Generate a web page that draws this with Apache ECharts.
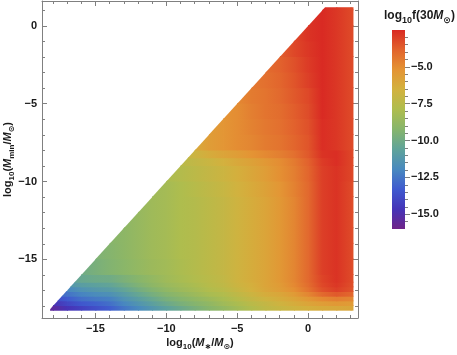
<!DOCTYPE html>
<html><head><meta charset="utf-8">
<script src="https://cdn.jsdelivr.net/npm/echarts@6/dist/echarts.min.js"></script>
<style>html,body{margin:0;padding:0;background:#fff}#c{width:457px;height:355px}</style>
</head><body><div id="c"></div>
<script>
// ---- data ----
// sample positions along log10(M*/Msun)
const xSamples = [-18.2, -18, -17, -16, -15, -14, -13, -12, -11, -10, -9, -8, -7, -6, -5, -4, -3, -2, -1, 0, 1, 2, 3, 3.2];
// horizontal bands along log10(Mmin/Msun) (edges)
const yBandEdges = [-18.3, -18.0, -17.7, -17.4, -17.1, -16.8, -16.5, -16, -15, -14, -13, -12, -11, -10, -9, -8.5, -8, -7, -6, -5, -4, -3, -2, -1, 0, 1, 1.2];
// log10 f values per band (bottom to top), right-aligned with xSamples (the last value is at x = 3.2)
const band01 = [-15.6, -15.4, -14.7, -14.2, -13.7, -13.2, -12.5, -11.9, -11.3, -10.7, -10.2, -9.7, -9.2, -8.8, -8.3, -7.8, -7.3, -7.0, -6.7, -6.4, -6.2, -6.1, -6.0, -6.0];
const band02 = [-14.8, -14.0, -13.4, -13.1, -12.7, -12.0, -11.4, -10.8, -10.2, -9.7, -9.3, -8.9, -8.4, -8.0, -7.5, -7.1, -6.7, -6.3, -5.9, -5.6, -5.4, -5.5, -5.5];
const band03 = [-13.9, -13.3, -12.7, -12.4, -12.2, -11.5, -10.9, -10.3, -9.7, -9.3, -8.9, -8.5, -8.1, -7.6, -7.1, -6.7, -6.3, -5.9, -5.4, -4.9, -4.6, -4.8, -4.9];
const band04 = [-13.0, -12.6, -12.1, -11.8, -11.6, -11.0, -10.4, -9.8, -9.3, -8.9, -8.5, -8.1, -7.8, -7.3, -6.8, -6.3, -6.0, -5.5, -4.8, -4.0, -3.6, -3.9, -4.0];
const band05 = [-12.0, -11.5, -11.2, -11.0, -10.5, -9.9, -9.4, -8.9, -8.5, -8.2, -7.8, -7.5, -7.0, -6.5, -6.0, -5.6, -5.1, -4.3, -3.4, -3.0, -3.4, -3.5];
const band06 = [-11.3, -10.9, -10.7, -10.5, -10.0, -9.5, -9.0, -8.6, -8.3, -8.0, -7.6, -7.3, -6.8, -6.4, -5.9, -5.5, -4.9, -4.1, -3.2, -2.8, -3.3, -3.4];
const band07 = [-10.8, -10.3, -10.1, -10.0, -9.6, -9.2, -8.8, -8.4, -8.1, -7.8, -7.5, -7.2, -6.7, -6.3, -5.9, -5.4, -4.8, -4.0, -3.1, -2.7, -3.2, -3.4];
const band08 = [-10.0, -9.7, -9.4, -9.1, -8.8, -8.5, -8.3, -8.0, -7.7, -7.4, -7.1, -6.7, -6.3, -5.9, -5.4, -4.8, -4.0, -3.0, -2.7, -3.2, -3.4];
const band09 = [-9.5, -9.3, -9.0, -8.7, -8.4, -8.2, -7.9, -7.7, -7.4, -7.1, -6.7, -6.3, -5.9, -5.4, -4.8, -4.0, -3.0, -2.7, -3.2, -3.4];
const band10 = [-9.2, -9.0, -8.7, -8.4, -8.2, -7.9, -7.7, -7.4, -7.1, -6.7, -6.3, -5.9, -5.4, -4.8, -4.0, -3.0, -2.7, -3.2, -3.4];
const band11 = [-9.0, -8.7, -8.4, -8.2, -7.9, -7.7, -7.4, -7.1, -6.7, -6.3, -5.9, -5.4, -4.8, -4.0, -3.0, -2.7, -3.2, -3.4];
const band12 = [-8.7, -8.4, -8.2, -7.9, -7.7, -7.4, -7.1, -6.7, -6.3, -5.9, -5.4, -4.8, -4.0, -3.0, -2.7, -3.2, -3.4];
const band13 = [-8.4, -8.2, -7.9, -7.6, -7.3, -7.0, -6.6, -6.2, -5.8, -5.3, -4.7, -4.0, -3.0, -2.7, -3.2, -3.4];
const band14 = [-8.0, -7.7, -7.4, -7.1, -6.8, -6.4, -6.0, -5.6, -5.1, -4.6, -3.9, -3.0, -2.7, -3.1, -3.3];
const band15 = [-7.5, -7.2, -6.9, -6.5, -6.1, -5.8, -5.4, -5.0, -4.5, -3.8, -2.9, -2.6, -3.1, -3.3];
const band16 = [-7.2, -6.8, -6.3, -5.9, -5.6, -5.2, -4.9, -4.6, -4.2, -3.6, -2.7, -2.6, -3.1, -3.3];
const band17 = [-6.2, -5.6, -5.3, -5.0, -4.8, -4.5, -4.3, -3.9, -3.5, -2.6, -2.8, -3.2, -3.3];
const band18 = [-5.6, -5.3, -5.0, -4.7, -4.4, -4.2, -3.8, -3.4, -2.6, -2.8, -3.2, -3.3];
const band19 = [-5.2, -5.0, -4.6, -4.3, -4.1, -3.7, -3.3, -2.5, -2.8, -3.2, -3.3];
const band20 = [-4.9, -4.5, -4.3, -4.0, -3.6, -3.2, -2.5, -2.8, -3.2, -3.3];
const band21 = [-4.4, -4.2, -3.9, -3.5, -3.0, -2.5, -2.8, -3.2, -3.3];
const band22 = [-4.1, -3.8, -3.4, -2.9, -2.5, -2.8, -3.2, -3.3];
const band23 = [-3.7, -3.2, -2.8, -2.5, -2.8, -3.2, -3.3];
const band24 = [-3.2, -2.7, -2.5, -2.8, -3.2, -3.3];
const band25 = [-2.7, -2.5, -2.8, -3.2, -3.3];
const band26 = [-2.5, -2.8, -3.2, -3.3];

const xMajorTicks = [-15, -10, -5, 0];
const xMinorTicks = [-18, -17, -16, -14, -13, -12, -11, -9, -8, -7, -6, -4, -3, -2, -1, 1, 2, 3];
const yMajorTicks = [-15, -10, -5, 0];
const yMinorTicks = [-18, -17, -16, -14, -13, -12, -11, -9, -8, -7, -6, -4, -3, -2, -1, 1];
const cbMajorTicks = [-15, -12.5, -10, -7.5, -5];
const cbMinorTicks = [-15.5, -14.5, -14, -13.5, -13, -12, -11.5, -11, -10.5, -9.5, -9, -8.5, -8, -7, -6.5, -6, -5.5, -4.5, -4, -3.5, -3];
const colorMin = -16, colorMax = -2.5;
const palette = ['#702488', '#4534b8', '#3f5acf', '#4889bf', '#5fa39a', '#86b56c', '#aebd4e', '#d2b23e', '#e49434', '#e2642d', '#d92a23'];

// ---- build ----
const bands = [band01, band02, band03, band04, band05, band06, band07, band08, band09, band10, band11, band12, band13,
  band14, band15, band16, band17, band18, band19, band20, band21, band22, band23, band24, band25, band26];
const xLast = xSamples[xSamples.length - 1];
const yTop = yBandEdges[yBandEdges.length - 1];
const cells = [];
bands.forEach((row, j) => {
  const off = xSamples.length - row.length;
  for (let k = 0; k < row.length - 1; k++) {
    const i = off + k;
    cells.push([xSamples[i], xSamples[i + 1], yBandEdges[j], yBandEdges[j + 1], row[k], row[k + 1]]);
  }
});

function colorOf(v) {
  let t = (v - colorMin) / (colorMax - colorMin);
  t = Math.max(0, Math.min(1, t));
  return echarts.color.lerp(t, palette);
}
// keep the part of a cell where Mmin <= M*
function clipToDomain(poly) {
  const out = [];
  for (let k = 0; k < poly.length; k++) {
    const a = poly[k], b = poly[(k + 1) % poly.length];
    const da = a[0] - a[1], db = b[0] - b[1];
    if (da >= 0) out.push(a);
    if ((da >= 0) !== (db >= 0)) {
      const t = da / (da - db);
      out.push([a[0] + t * (b[0] - a[0]), a[1] + t * (b[1] - a[1])]);
    }
  }
  return out;
}
const minusFmt = (v, d) => (v < 0 ? '\u2212' : '') + Math.abs(v).toFixed(d);

const FONT = '"Liberation Sans", Arial, "DejaVu Sans", sans-serif';
const frameColor = '#808080';
const labelColor = '#1a1a1a';
const X_MIN = -18.77, X_MAX = 3.52, Y_MIN = -18.77, Y_MAX = 1.6;

function richSet(size) {
  return {
    n: { fontFamily: FONT, fontSize: size, fontWeight: 'bold', color: labelColor, lineHeight: size + 6 },
    i: { fontFamily: FONT, fontSize: size, fontWeight: 'bold', fontStyle: 'italic', color: labelColor, lineHeight: size + 6 },
    s: { fontFamily: FONT, fontSize: size - 3, fontWeight: 'bold', color: labelColor, lineHeight: size - 2, verticalAlign: 'bottom' },
    u: { fontFamily: '"DejaVu Sans", sans-serif', fontSize: size - 3, fontWeight: 'bold', color: labelColor, lineHeight: size - 2, verticalAlign: 'bottom' }
  };
}

function axisPair(kind, pos, majors, minors, withLabels, extra) {
  const base = {
    type: 'value', gridIndex: 0, position: pos,
    min: kind === 'x' ? X_MIN : Y_MIN, max: kind === 'x' ? X_MAX : Y_MAX,
    splitLine: { show: false }
  };
  const major = Object.assign({}, base, {
    axisLine: { show: true, onZero: false, lineStyle: { color: frameColor, width: 1 } },
    axisTick: { show: true, inside: true, length: 5, customValues: majors, lineStyle: { color: frameColor, width: 1 } },
    axisLabel: withLabels ? { show: true, customValues: majors, formatter: v => minusFmt(v, 0), margin: 5,
      fontFamily: FONT, fontSize: 11, fontWeight: 'bold', color: labelColor } : { show: false }
  }, extra || {});
  const minor = Object.assign({}, base, {
    axisLine: { show: false, onZero: false },
    axisTick: { show: true, inside: true, length: 3, customValues: minors, lineStyle: { color: frameColor, width: 1 } },
    axisLabel: { show: false }
  });
  return [major, minor];
}

const xAxes = [
  ...axisPair('x', 'bottom', xMajorTicks, xMinorTicks, true, {
    name: '{n|log}{s|10}{n|(}{i|M}{s|\u2217}{n|/}{i|M}{u|\u2299}{n|)}',
    nameLocation: 'middle', nameGap: 16, nameMoveOverlap: false,
    nameTextStyle: { rich: richSet(11) }
  }),
  ...axisPair('x', 'top', xMajorTicks, xMinorTicks, false),
  { type: 'value', gridIndex: 1, min: 0, max: 1, show: false }
];
const yAxes = [
  ...axisPair('y', 'left', yMajorTicks, yMinorTicks, true, {
    name: '{n|log}{s|10}{n|(}{i|M}{s|min}{n|/}{i|M}{u|\u2299}{n|)}',
    nameLocation: 'middle', nameGap: 26, nameRotate: 90, nameMoveOverlap: false,
    nameTextStyle: { rich: richSet(11) }
  }),
  ...axisPair('y', 'right', yMajorTicks, yMinorTicks, false),
  {
    type: 'value', gridIndex: 1, position: 'right', min: colorMin, max: colorMax,
    splitLine: { show: false },
    axisLine: { show: false, onZero: false },
    axisTick: { show: true, inside: false, length: 5, customValues: cbMajorTicks, lineStyle: { color: frameColor } },
    axisLabel: { show: true, customValues: cbMajorTicks, formatter: v => minusFmt(v, 1), margin: 6,
      fontFamily: FONT, fontSize: 11, fontWeight: 'bold', color: labelColor }
  },
  {
    type: 'value', gridIndex: 1, position: 'right', min: colorMin, max: colorMax,
    splitLine: { show: false },
    axisLine: { show: false, onZero: false },
    axisTick: { show: true, inside: false, length: 3, customValues: cbMinorTicks, lineStyle: { color: frameColor } },
    axisLabel: { show: false }
  }
];

const chart = echarts.init(document.getElementById('c'), null, { renderer: 'canvas' });
chart.setOption({
  animation: false,
  backgroundColor: '#fff',
  title: {
    text: '{n|log}{s|10}{n|f(30}{i|M}{u|\u2299}{n|)}',
    left: 379, top: 2,
    textStyle: { rich: richSet(12) }
  },
  grid: [
    { left: 42, right: 99, top: 1, bottom: 37, outerBoundsMode: 'none', containLabel: false },
    { left: 392, top: 30, width: 13, height: 199, outerBoundsMode: 'none', containLabel: false }
  ],
  xAxis: xAxes,
  yAxis: yAxes,
  series: [
    {
      type: 'custom', xAxisIndex: 0, yAxisIndex: 0, silent: true, clip: true,
      data: cells,
      renderItem: function (params, api) {
        const x0 = api.value(0), x1 = api.value(1), y0 = api.value(2), y1 = api.value(3);
        // slight overlap with the right / upper neighbour hides anti-aliasing seams
        const xe = x1 < xLast ? x1 + 0.06 : x1;
        const ye = y1 < yTop ? y1 + 0.06 : y1;
        const poly = clipToDomain([[x0, y0], [xe, y0], [xe, ye], [x0, ye]]);
        if (poly.length < 3) return null;
        const pts = poly.map(p => api.coord(p));
        let area = 0;
        for (let k = 0; k < pts.length; k++) {
          const a = pts[k], b = pts[(k + 1) % pts.length];
          area += a[0] * b[1] - b[0] * a[1];
        }
        if (Math.abs(area) < 0.05) return null;
        const px0 = api.coord([x0, y0])[0], px1 = api.coord([x1, y0])[0];
        const grad = new echarts.graphic.LinearGradient(px0, 0, px1, 0, [
          { offset: 0, color: colorOf(api.value(4)) },
          { offset: 1, color: colorOf(api.value(5)) }
        ], true);
        return { type: 'polygon', shape: { points: pts }, style: { fill: grad, stroke: null } };
      }
    },
    {
      type: 'custom', xAxisIndex: 4, yAxisIndex: 4, silent: true,
      data: [[0, 1, colorMin, colorMax]],
      renderItem: function (params, api) {
        const p0 = api.coord([api.value(0), api.value(2)]);
        const p1 = api.coord([api.value(1), api.value(3)]);
        const stops = palette.map((c, k) => ({ offset: k / (palette.length - 1), color: c }));
        return {
          type: 'rect',
          shape: { x: p0[0], y: p1[1], width: p1[0] - p0[0], height: p0[1] - p1[1] },
          style: { fill: new echarts.graphic.LinearGradient(0, 1, 0, 0, stops) }
        };
      }
    }
  ]
});
</script>
</body></html>
